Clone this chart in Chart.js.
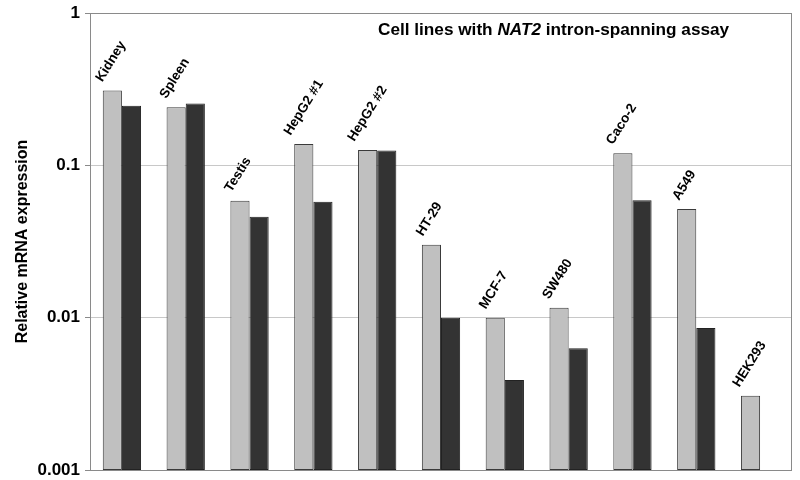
<!DOCTYPE html>
<html>
<head>
<meta charset="utf-8">
<script src="https://cdn.jsdelivr.net/npm/chart.js@4.4.1/dist/chart.umd.min.js"></script>
<style>
  html, body { margin: 0; padding: 0; background: #fff; }
  #wrap { width: 800px; height: 480px; }
</style>
</head>
<body>
<div id="wrap"><canvas id="c" width="800" height="480"></canvas></div>
<script>
// ---- data ----
const categories = ["Kidney", "Spleen", "Testis", "HepG2 #1", "HepG2 #2", "HT-29", "MCF-7", "SW480", "Caco-2", "A549", "HEK293"];
const seriesLight = [0.31, 0.241, 0.0586, 0.138, 0.126, 0.0301, 0.0100, 0.0116, 0.120, 0.0516, 0.00307];
const seriesDark  = [0.246, 0.255, 0.046, 0.0577, 0.125, 0.0100, 0.0039, 0.0063, 0.0589, 0.00855, null];
const yTicks = [0.001, 0.01, 0.1, 1];
const yTickLabels = ["0.001", "0.01", "0.1", "1"];
const yTitle = "Relative mRNA expression";
const titleParts = [["Cell lines with ", false], ["NAT2", true], [" intron-spanning assay", false]];

const FONT = "'Liberation Sans', Arial, sans-serif";

const overlay = {
  id: 'overlay',
  afterDatasetsDraw(chart) {
    const ctx = chart.ctx;
    const area = chart.chartArea;
    // plot border
    ctx.save();
    ctx.strokeStyle = '#8a8a8a';
    ctx.lineWidth = 1;
    ctx.strokeRect(Math.round(area.left) + 0.5, Math.round(area.top) + 0.5,
                   Math.round(area.right - area.left) - 1, Math.round(area.bottom - area.top));
    ctx.restore();

    // rotated category labels above light bars
    const meta = chart.getDatasetMeta(0);
    const theta = 58 * Math.PI / 180;
    ctx.save();
    ctx.font = "bold 13.5px " + FONT;
    ctx.fillStyle = '#000';
    ctx.textAlign = 'left';
    ctx.textBaseline = 'alphabetic';
    meta.data.forEach((bar, i) => {
      const L = ctx.measureText(categories[i]).width;
      const left = bar.x - bar.width / 2;
      const ax = left + 8 - 0.19 * L;
      const ay = bar.y - 8;
      ctx.save();
      ctx.translate(ax, ay);
      ctx.rotate(-theta);
      ctx.fillText(categories[i], 0, 0);
      ctx.restore();
    });
    ctx.restore();

    // title with italic gene name
    ctx.save();
    ctx.fillStyle = '#000';
    ctx.textBaseline = 'alphabetic';
    ctx.textAlign = 'left';
    let x = 378;
    const y = 35;
    titleParts.forEach(([txt, it]) => {
      ctx.font = (it ? "italic " : "") + "bold 17.2px " + FONT;
      ctx.fillText(txt, x, y);
      x += ctx.measureText(txt).width;
    });
    ctx.restore();
  }
};

new Chart(document.getElementById('c'), {
  type: 'bar',
  data: {
    labels: categories,
    datasets: [
      { data: seriesLight, backgroundColor: '#c0c0c0', borderColor: '#3a3a3a', borderWidth: 1, borderSkipped: false },
      { data: seriesDark, backgroundColor: '#333333', borderColor: '#222222', borderWidth: 1, borderSkipped: false }
    ]
  },
  options: {
    responsive: false,
    animation: false,
    devicePixelRatio: 1,
    layout: { padding: { left: 0, right: 8, top: 13, bottom: 10 } },
    plugins: { legend: { display: false }, tooltip: { enabled: false } },
    datasets: { bar: { categoryPercentage: 0.6, barPercentage: 1.0 } },
    scales: {
      x: { display: false, grid: { display: false } },
      y: {
        type: 'logarithmic',
        min: 0.001,
        max: 1,
        afterBuildTicks(scale) { scale.ticks = yTicks.map(v => ({ value: v })); },
        afterFit(scale) { scale.width = 90; scale.paddingTop = 0; scale.paddingBottom = 0; },
        ticks: {
          color: '#000',
          font: { family: FONT, size: 17, weight: 'bold' },
          padding: 5,
          callback(v) { const k = yTicks.indexOf(v); return k >= 0 ? yTickLabels[k] : ''; }
        },
        grid: { color: '#c8c8c8', lineWidth: 1, tickLength: 5, tickColor: '#8a8a8a' },
        border: { display: false },
        title: { display: true, text: yTitle, color: '#000', font: { family: FONT, size: 16, weight: 'bold' }, padding: { top: 13 } }
      }
    }
  },
  plugins: [overlay]
});
</script>
</body>
</html>
